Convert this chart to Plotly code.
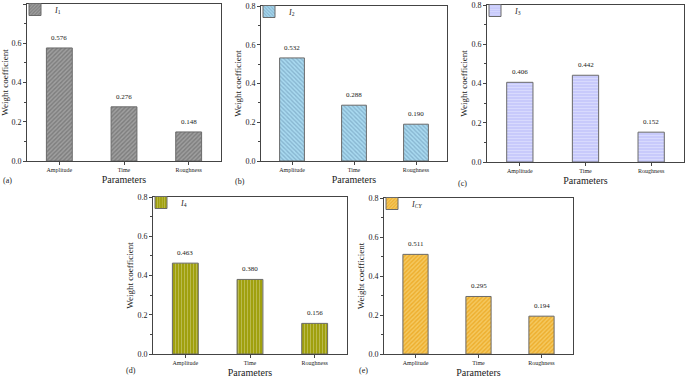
import plotly.graph_objects as go

categories = ["Amplitude", "Time", "Roughness"]
vals_a = [0.576, 0.276, 0.148]
vals_b = [0.532, 0.288, 0.190]
vals_c = [0.406, 0.442, 0.152]
vals_d = [0.463, 0.380, 0.156]
vals_e = [0.511, 0.295, 0.194]
labels_legend = ["<i>I</i><sub>1</sub>", "<i>I</i><sub>2</sub>", "<i>I</i><sub>3</sub>",
                 "<i>I</i><sub>4</sub>", "<i>I</i><sub><i>CY</i></sub>"]
panel_tags = ["(a)", "(b)", "(c)", "(d)", "(e)"]
yticks = [0.0, 0.2, 0.4, 0.6, 0.8]

W, H = 685, 381
FONT = "Liberation Serif, Times New Roman, serif"

# panel boxes in pixels: left, right, top, bottom
boxes = [
    (27, 221, 4, 161),
    (261, 447, 6, 161),
    (487, 684, 5, 162),
    (153, 347, 197, 354),
    (384, 573, 198, 354),
]
styles = [
    dict(bg="#808080", fg="#c4c4c4", shape="/"),
    dict(bg="#a9daf0", fg="#6590b0", shape="\\"),
    dict(bg="#c4c6fb", fg="#eceeff", shape="-"),
    dict(bg="#9a9a00", fg="#dada9a", shape="|"),
    dict(bg="#eeb030", fg="#fbe59a", shape="/"),
]
series = [vals_a, vals_b, vals_c, vals_d, vals_e]
tag_pos = [(7, 180), (240, 181), (462, 183), (131, 370), (363, 370)]

fig = go.Figure()
layout = dict(width=W, height=H, margin=dict(l=0, r=0, t=0, b=0, autoexpand=False),
              paper_bgcolor="white", plot_bgcolor="white",
              font=dict(family=FONT, color="#222"), bargap=0.6,
              showlegend=True, annotations=[])

for i, (vals, st, box) in enumerate(zip(series, styles, boxes)):
    n = "" if i == 0 else str(i + 1)
    xa, ya = "x" + n, "y" + n
    lg = "legend" + n
    l, r, t, b = box
    fig.add_trace(go.Bar(
        x=categories, y=vals, xaxis=xa, yaxis=ya, name=labels_legend[i], legend=lg,
        width=0.4,
        marker=dict(color=st["bg"], line=dict(color="#6a6a6a", width=1),
                    pattern=dict(shape=st["shape"], fgcolor=st["fg"], bgcolor=st["bg"],
                                 size=3, solidity=0.45, fillmode="overlay")),
    ))
    common_line = dict(showline=True, linecolor="#444", linewidth=1, mirror=True,
                       showgrid=False, zeroline=False, automargin=False)
    layout["xaxis" + n] = dict(
        domain=[l / W, r / W], anchor=ya, range=[-0.5, 2.5], type="category",
        ticks="outside", ticklen=3, tickcolor="#444",
        tickfont=dict(size=6, family=FONT, color="#222"),
        title=dict(text="Parameters", font=dict(size=10, family=FONT, color="#222"), standoff=3),
        **common_line)
    layout["yaxis" + n] = dict(
        domain=[1 - b / H, 1 - t / H], anchor=xa, range=[0, 0.8],
        tickvals=yticks, ticktext=[f"{v:.1f}" for v in yticks],
        ticks="outside", ticklen=3, tickcolor="#444",
        minor=dict(tickvals=[0.1, 0.3, 0.5, 0.7], ticks="outside", ticklen=2, tickcolor="#444"),
        tickfont=dict(size=8, family=FONT, color="#222"),
        title=dict(text="Weight coefficient", font=dict(size=9, family=FONT, color="#222"), standoff=2),
        **common_line)
    layout[lg] = dict(x=(l - 12) / W, y=1 - (t - 9) / H, xanchor="left", yanchor="top",
                      bgcolor="rgba(0,0,0,0)", font=dict(size=8, family=FONT, color="#222"),
                      itemwidth=30, tracegroupgap=0)
    for c, v in zip(categories, vals):
        layout["annotations"].append(dict(
            x=c, y=v, xref=xa, yref=ya, text=f"{v:.3f}", showarrow=False,
            yshift=10, font=dict(size=7, family=FONT, color="#222")))
    tx, ty = tag_pos[i]
    layout["annotations"].append(dict(
        x=tx / W, y=1 - ty / H, xref="paper", yref="paper", text=panel_tags[i],
        showarrow=False, xanchor="center", yanchor="middle",
        font=dict(size=8, family=FONT, color="#222")))

fig.update_layout(**layout)
fig.write_html("out.html", config={"displayModeBar": False},
               post_script="document.body.style.margin='0px';document.body.style.overflow='hidden';")
